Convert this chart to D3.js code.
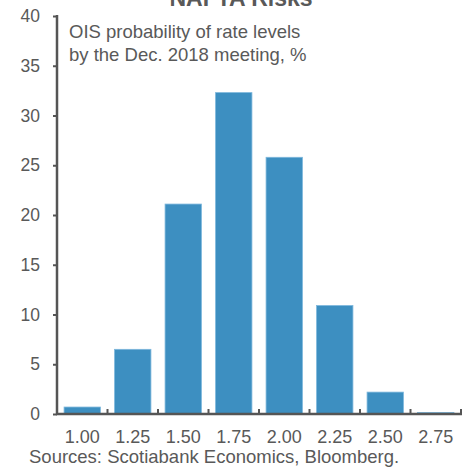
<!DOCTYPE html>
<html>
<head>
<meta charset="utf-8">
<script src="https://cdn.jsdelivr.net/npm/d3@7"></script>
<style>
  body { margin: 0; background: #fff; }
  text { font-family: "Liberation Sans", Arial, sans-serif; fill: #595959; }
</style>
</head>
<body>
<div id="chart"></div>
<script>
// rate levels and OIS probabilities (%)
var rateLevels = ["1.00", "1.25", "1.50", "1.75", "2.00", "2.25", "2.50", "2.75"];
var probabilities = [0.7, 6.5, 21.1, 32.3, 25.8, 10.9, 2.2, 0.15];
var yTicks = [0, 5, 10, 15, 20, 25, 30, 35, 40];

function drawChart(){
    var width = 466,
        height = 467,
        left = 57,
        right = 461,
        top = 16,
        bottom = 414;

    var svg = d3.select("#chart")
        .append("svg")
        .attr("width", width)
        .attr("height", height);

    var x = d3.scaleBand()
        .domain(rateLevels)
        .range([left, right])
        .paddingInner(0.28)
        .paddingOuter(0.14);

    var y = d3.scaleLinear()
        .domain([0, 40])
        .range([bottom, top]);

    // bars
    svg.selectAll(".bar")
        .data(probabilities)
        .enter()
        .append("rect")
        .attr("class", "bar")
        .attr("x", function(d, i){ return x(rateLevels[i]); })
        .attr("y", function(d){ return y(d); })
        .attr("width", x.bandwidth())
        .attr("height", function(d){ return bottom - y(d); })
        .attr("fill", "#3d8fc1")
        .attr("stroke", "#7db7dc")
        .attr("stroke-width", 0.8);

    // y axis
    var yAxis = d3.axisLeft(y)
        .tickValues(yTicks)
        .tickSize(4)
        .tickPadding(13);
    var yg = svg.append("g")
        .attr("transform", "translate(" + left + ",0)")
        .call(yAxis);
    yg.select(".domain").remove();
    yg.selectAll("line").attr("stroke", "#555").attr("stroke-width", 2);
    yg.selectAll("text")
        .attr("font-size", 17.5)
        .attr("fill", "#595959")
        .attr("font-family", "Liberation Sans, Arial, sans-serif");
    svg.append("line")
        .attr("x1", left).attr("x2", left)
        .attr("y1", y(40) - 1).attr("y2", bottom + 1)
        .attr("stroke", "#555").attr("stroke-width", 2.5);

    // x axis, ticks between bands pointing up
    var step = x.step();
    var boundaries = rateLevels.map(function(d){ return x(d) - x.paddingInner() * step / 2 + step; });
    svg.selectAll(".xtick")
        .data(boundaries)
        .enter()
        .append("line")
        .attr("x1", function(d){ return d; })
        .attr("x2", function(d){ return d; })
        .attr("y1", bottom)
        .attr("y2", bottom - 5)
        .attr("stroke", "#555")
        .attr("stroke-width", 2);
    svg.append("line")
        .attr("x1", left - 1).attr("x2", right + 1)
        .attr("y1", bottom).attr("y2", bottom)
        .attr("stroke", "#555").attr("stroke-width", 2.5);

    svg.selectAll(".xlabel")
        .data(rateLevels)
        .enter()
        .append("text")
        .attr("x", function(d){ return x(d) + x.bandwidth() / 2; })
        .attr("y", 443)
        .attr("text-anchor", "middle")
        .attr("font-size", 18)
        .text(function(d){ return d; });

    // title (cut off at top)
    svg.append("text")
        .attr("x", 241)
        .attr("y", 6)
        .attr("text-anchor", "middle")
        .attr("font-size", 23)
        .attr("font-weight", "bold")
        .text("NAFTA Risks");

    // subtitle
    svg.append("text")
        .attr("x", 69)
        .attr("y", 38)
        .attr("font-size", 18.5)
        .text("OIS probability of rate levels");
    svg.append("text")
        .attr("x", 69)
        .attr("y", 61)
        .attr("font-size", 18.5)
        .text("by the Dec. 2018 meeting, %");

    // source
    svg.append("text")
        .attr("x", 29)
        .attr("y", 463)
        .attr("font-size", 18.5)
        .text("Sources: Scotiabank Economics, Bloomberg.");
};

drawChart();
</script>
</body>
</html>
